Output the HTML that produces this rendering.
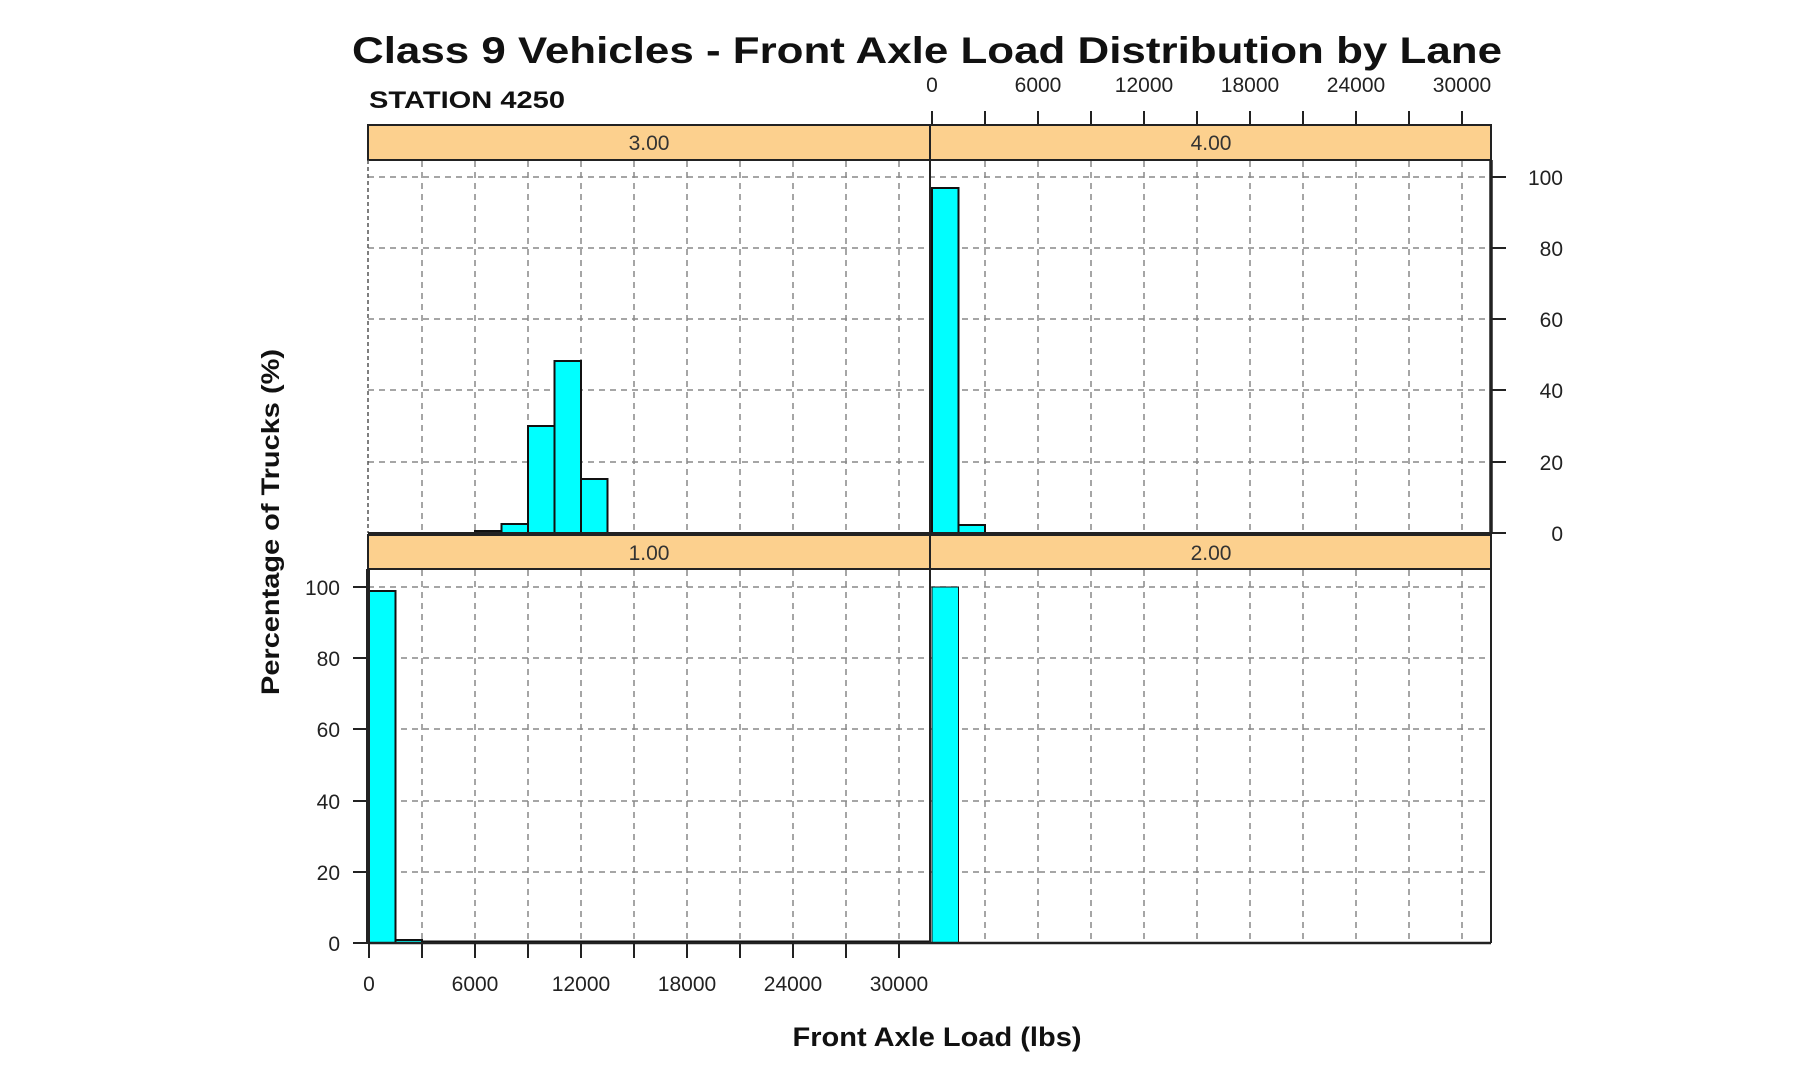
<!DOCTYPE html>
<html><head><meta charset="utf-8"><style>
html,body{margin:0;padding:0;background:#fff;}
svg{display:block;}
text{font-family:"Liberation Sans",Arial,sans-serif;}
</style></head><body>
<svg width="1794" height="1090" viewBox="0 0 1794 1090" xmlns="http://www.w3.org/2000/svg">
<rect width="1794" height="1090" fill="#fff"/>
<!-- Title -->
<text x="927" y="63" font-size="37" font-weight="bold" text-anchor="middle" fill="#111" textLength="1150" lengthAdjust="spacingAndGlyphs">Class 9 Vehicles - Front Axle Load Distribution by Lane</text>
<text x="369" y="108" font-size="24" font-weight="bold" fill="#111" textLength="196" lengthAdjust="spacingAndGlyphs">STATION 4250</text>

<!-- Strips -->
<rect x="368" y="125" width="1123" height="35" fill="#fcd08e" stroke="#222" stroke-width="2"/>
<line x1="930" y1="125" x2="930" y2="160" stroke="#222" stroke-width="2"/>
<rect x="368" y="535" width="1123" height="34" fill="#fcd08e" stroke="#222" stroke-width="2"/>
<line x1="930" y1="535" x2="930" y2="569" stroke="#222" stroke-width="2"/>
<g font-size="21" fill="#333" text-anchor="middle">
<text x="649" y="150">3.00</text><text x="1211" y="150">4.00</text>
<text x="649" y="560">1.00</text><text x="1211" y="560">2.00</text>
</g>

<!-- Grids -->
<g stroke="#888" stroke-width="1.5" stroke-dasharray="6,5">
<line x1="422" y1="161" x2="422" y2="533"/><line x1="475" y1="161" x2="475" y2="533"/><line x1="528" y1="161" x2="528" y2="533"/><line x1="581" y1="161" x2="581" y2="533"/><line x1="634" y1="161" x2="634" y2="533"/><line x1="687" y1="161" x2="687" y2="533"/><line x1="740" y1="161" x2="740" y2="533"/><line x1="793" y1="161" x2="793" y2="533"/><line x1="846" y1="161" x2="846" y2="533"/><line x1="899" y1="161" x2="899" y2="533"/>
<line x1="422" y1="570" x2="422" y2="943"/><line x1="475" y1="570" x2="475" y2="943"/><line x1="528" y1="570" x2="528" y2="943"/><line x1="581" y1="570" x2="581" y2="943"/><line x1="634" y1="570" x2="634" y2="943"/><line x1="687" y1="570" x2="687" y2="943"/><line x1="740" y1="570" x2="740" y2="943"/><line x1="793" y1="570" x2="793" y2="943"/><line x1="846" y1="570" x2="846" y2="943"/><line x1="899" y1="570" x2="899" y2="943"/>
<line x1="985" y1="161" x2="985" y2="533"/><line x1="1038" y1="161" x2="1038" y2="533"/><line x1="1091" y1="161" x2="1091" y2="533"/><line x1="1144" y1="161" x2="1144" y2="533"/><line x1="1197" y1="161" x2="1197" y2="533"/><line x1="1250" y1="161" x2="1250" y2="533"/><line x1="1303" y1="161" x2="1303" y2="533"/><line x1="1356" y1="161" x2="1356" y2="533"/><line x1="1409" y1="161" x2="1409" y2="533"/><line x1="1462" y1="161" x2="1462" y2="533"/>
<line x1="985" y1="570" x2="985" y2="943"/><line x1="1038" y1="570" x2="1038" y2="943"/><line x1="1091" y1="570" x2="1091" y2="943"/><line x1="1144" y1="570" x2="1144" y2="943"/><line x1="1197" y1="570" x2="1197" y2="943"/><line x1="1250" y1="570" x2="1250" y2="943"/><line x1="1303" y1="570" x2="1303" y2="943"/><line x1="1356" y1="570" x2="1356" y2="943"/><line x1="1409" y1="570" x2="1409" y2="943"/><line x1="1462" y1="570" x2="1462" y2="943"/>
<line x1="368" y1="177" x2="1491" y2="177"/><line x1="368" y1="248" x2="1491" y2="248"/><line x1="368" y1="319" x2="1491" y2="319"/><line x1="368" y1="390" x2="1491" y2="390"/><line x1="368" y1="462" x2="1491" y2="462"/>
<line x1="368" y1="587" x2="1491" y2="587"/><line x1="368" y1="658" x2="1491" y2="658"/><line x1="368" y1="729" x2="1491" y2="729"/><line x1="368" y1="801" x2="1491" y2="801"/><line x1="368" y1="872" x2="1491" y2="872"/>
</g>
<line x1="368" y1="160" x2="368" y2="533" stroke="#555" stroke-width="1.5" stroke-dasharray="4,3"/>

<!-- Bars -->
<g fill="#00ffff" stroke="#111" stroke-width="2">
<rect x="475" y="531" width="26.5" height="2"/>
<rect x="501.5" y="524" width="26.5" height="9"/>
<rect x="528" y="426" width="26.5" height="107"/>
<rect x="554.5" y="361" width="26.5" height="172"/>
<rect x="581" y="479" width="26.5" height="54"/>
<rect x="932" y="188" width="26.5" height="345"/>
<rect x="958.5" y="525" width="26.5" height="8"/>
<rect x="369" y="591" width="26.5" height="352"/>
<rect x="395.5" y="940" width="26.5" height="3"/>
<rect x="932" y="587" width="26.5" height="356" stroke-width="1"/>
</g>
<line x1="422" y1="942" x2="930" y2="942" stroke="#111" stroke-width="3"/>

<!-- Frames -->
<g stroke="#222" fill="none">
<line x1="930" y1="160" x2="930" y2="943" stroke-width="2"/>
<line x1="368" y1="533" x2="1491" y2="533" stroke-width="2"/>
<line x1="1491" y1="160" x2="1491" y2="533" stroke-width="3.5"/>
<line x1="1491" y1="569" x2="1491" y2="943" stroke-width="2"/>
<line x1="368" y1="569" x2="368" y2="943" stroke-width="4"/>
<line x1="368" y1="943" x2="1491" y2="943" stroke-width="2.5"/>
</g>

<!-- Ticks -->
<g stroke="#222" stroke-width="2">
<line x1="932" y1="111" x2="932" y2="125"/><line x1="985" y1="111" x2="985" y2="125"/><line x1="1038" y1="111" x2="1038" y2="125"/><line x1="1091" y1="111" x2="1091" y2="125"/><line x1="1144" y1="111" x2="1144" y2="125"/><line x1="1197" y1="111" x2="1197" y2="125"/><line x1="1250" y1="111" x2="1250" y2="125"/><line x1="1303" y1="111" x2="1303" y2="125"/><line x1="1356" y1="111" x2="1356" y2="125"/><line x1="1409" y1="111" x2="1409" y2="125"/><line x1="1462" y1="111" x2="1462" y2="125"/>
<line x1="369" y1="943" x2="369" y2="958"/><line x1="422" y1="943" x2="422" y2="958"/><line x1="475" y1="943" x2="475" y2="958"/><line x1="528" y1="943" x2="528" y2="958"/><line x1="581" y1="943" x2="581" y2="958"/><line x1="634" y1="943" x2="634" y2="958"/><line x1="687" y1="943" x2="687" y2="958"/><line x1="740" y1="943" x2="740" y2="958"/><line x1="793" y1="943" x2="793" y2="958"/><line x1="846" y1="943" x2="846" y2="958"/><line x1="899" y1="943" x2="899" y2="958"/>
<line x1="1491" y1="177" x2="1506" y2="177"/><line x1="1491" y1="248" x2="1506" y2="248"/><line x1="1491" y1="319" x2="1506" y2="319"/><line x1="1491" y1="390" x2="1506" y2="390"/><line x1="1491" y1="462" x2="1506" y2="462"/><line x1="1491" y1="533" x2="1506" y2="533"/>
<line x1="353" y1="587" x2="368" y2="587"/><line x1="353" y1="658" x2="368" y2="658"/><line x1="353" y1="729" x2="368" y2="729"/><line x1="353" y1="801" x2="368" y2="801"/><line x1="353" y1="872" x2="368" y2="872"/><line x1="353" y1="943" x2="368" y2="943"/>
</g>

<!-- Tick labels -->
<g font-size="21" fill="#222" text-anchor="middle">
<text x="932" y="92">0</text><text x="1038" y="92">6000</text><text x="1144" y="92">12000</text><text x="1250" y="92">18000</text><text x="1356" y="92">24000</text><text x="1462" y="92">30000</text>
<text x="369" y="991">0</text><text x="475" y="991">6000</text><text x="581" y="991">12000</text><text x="687" y="991">18000</text><text x="793" y="991">24000</text><text x="899" y="991">30000</text>
</g>
<g font-size="21" fill="#222" text-anchor="end">
<text x="1563" y="185">100</text><text x="1563" y="256">80</text><text x="1563" y="327">60</text><text x="1563" y="398">40</text><text x="1563" y="470">20</text><text x="1563" y="541">0</text>
<text x="340" y="595">100</text><text x="340" y="666">80</text><text x="340" y="737">60</text><text x="340" y="809">40</text><text x="340" y="880">20</text><text x="340" y="951">0</text>
</g>

<!-- Axis labels -->
<text x="937" y="1046" font-size="27" font-weight="bold" text-anchor="middle" fill="#111" textLength="289" lengthAdjust="spacingAndGlyphs">Front Axle Load (lbs)</text>
<text transform="translate(279,522) rotate(-90)" font-size="25" font-weight="bold" text-anchor="middle" fill="#111" textLength="346" lengthAdjust="spacingAndGlyphs">Percentage of Trucks (%)</text>
</svg>
</body></html>
